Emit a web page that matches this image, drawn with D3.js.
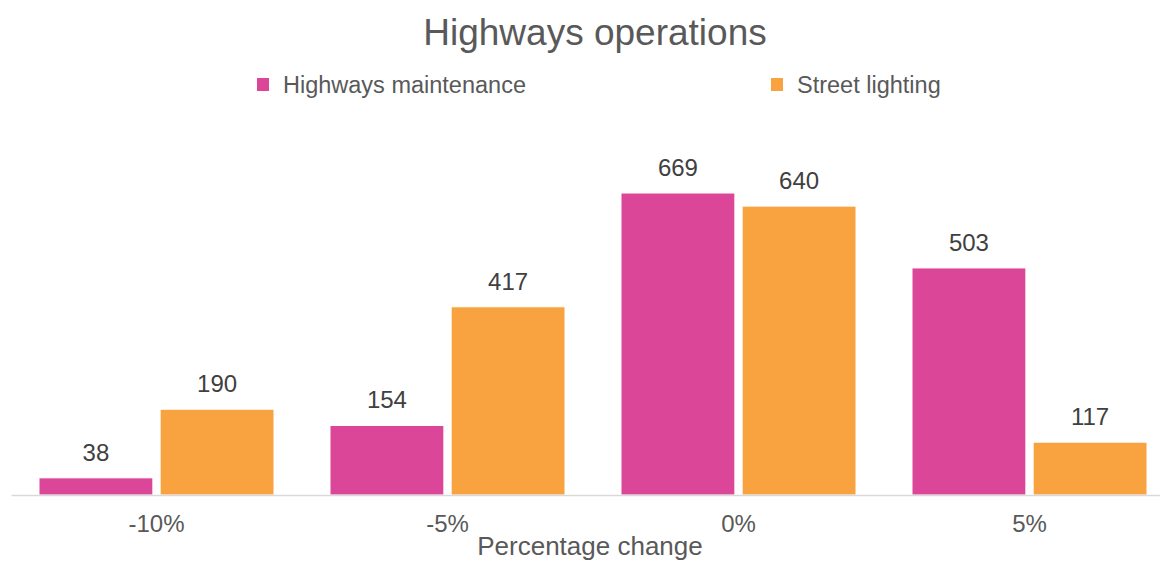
<!DOCTYPE html>
<html>
<head>
<meta charset="utf-8">
<script src="https://cdn.jsdelivr.net/npm/d3@7"></script>
<style>
  html, body { margin: 0; padding: 0; background: #fff; }
  svg { display: block; font-family: "Liberation Sans", Arial, sans-serif; }
</style>
</head>
<body>
<svg id="chart" width="1160" height="561"></svg>
<script>
const categories = ["-10%", "-5%", "0%", "5%"];
const seriesNames = ["Highways maintenance", "Street lighting"];
const maintenance = [38, 154, 669, 503];
const lighting = [190, 417, 640, 117];
const seriesColors = ["#DC4699", "#F8A33F"];
const titleText = "Highways operations";
const axisTitle = "Percentage change";

const W = 1160, H = 561;
const baseline = 495;
const svg = d3.select("#chart");

const x = d3.scaleBand().domain(categories).range([11, 1175]).padding(0);
const xs = d3.scaleBand().domain(seriesNames)
  .range([x.bandwidth() * 0.0962, x.bandwidth() * 0.9038]).paddingInner(0.06).paddingOuter(0);
const y = d3.scaleLinear().domain([0, 700]).range([baseline, baseline - 700 * 0.4514]);

const data = categories.map((c, i) => ({
  cat: c,
  values: [
    { s: seriesNames[0], v: maintenance[i], color: seriesColors[0] },
    { s: seriesNames[1], v: lighting[i], color: seriesColors[1] }
  ]
}));

// Title
svg.append("text")
  .attr("x", 595).attr("y", 45)
  .attr("text-anchor", "middle")
  .attr("font-size", 37)
  .attr("fill", "#595959")
  .text(titleText);

// Legend
const legendPos = [257, 771];
seriesNames.forEach((s, i) => {
  svg.append("rect")
    .attr("x", legendPos[i]).attr("y", 78)
    .attr("width", 12).attr("height", 13)
    .attr("fill", seriesColors[i]);
  svg.append("text")
    .attr("x", legendPos[i] + 26).attr("y", 93)
    .attr("font-size", 23.5)
    .attr("fill", "#595959")
    .text(s);
});

// Bars
const groups = svg.append("g").selectAll("g").data(data).join("g")
  .attr("transform", d => `translate(${x(d.cat)},0)`);

groups.selectAll("rect").data(d => d.values).join("rect")
  .attr("x", d => xs(d.s))
  .attr("y", d => y(d.v))
  .attr("width", xs.bandwidth())
  .attr("height", d => baseline - y(d.v))
  .attr("fill", d => d.color)
  .attr("stroke", "#fff")
  .attr("stroke-width", 1);

groups.selectAll("text.val").data(d => d.values).join("text")
  .attr("class", "val")
  .attr("x", d => xs(d.s) + xs.bandwidth() / 2)
  .attr("y", d => y(d.v) - 17)
  .attr("text-anchor", "middle")
  .attr("font-size", 24)
  .attr("fill", "#404040")
  .text(d => d.v);

// X axis
const xAxis = svg.append("g")
  .attr("transform", `translate(0,${baseline})`)
  .call(d3.axisBottom(x).tickSize(0).tickPadding(20));
xAxis.select(".domain").attr("stroke", "#D9D9D9").attr("stroke-width", 1.5);
xAxis.selectAll("text")
  .attr("font-size", 24)
  .attr("font-family", "Liberation Sans, Arial, sans-serif")
  .attr("fill", "#595959");

// Axis title
svg.append("text")
  .attr("x", 590).attr("y", 555)
  .attr("text-anchor", "middle")
  .attr("font-size", 26)
  .attr("fill", "#595959")
  .text(axisTitle);
</script>
</body>
</html>
